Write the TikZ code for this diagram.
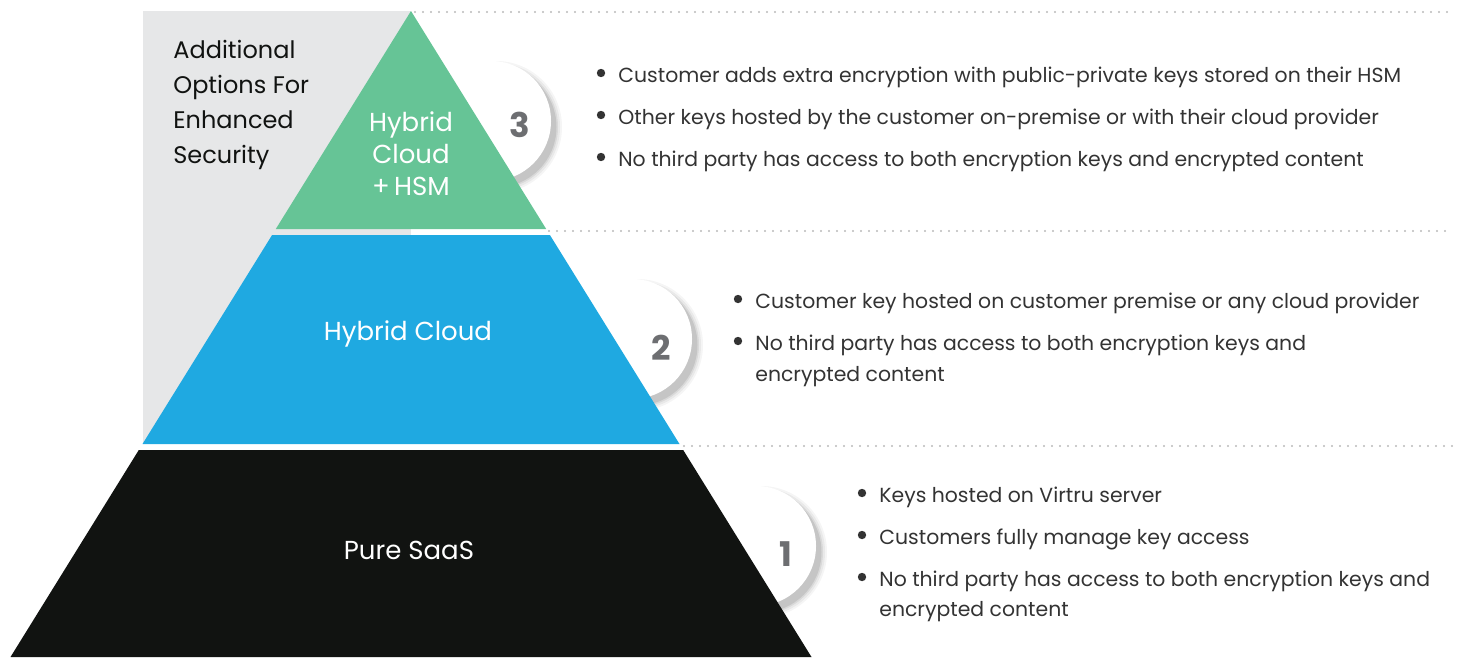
\documentclass[tikz,border=0pt]{standalone}
\usepackage{fontspec}
\setmainfont{Poppins}
\usetikzlibrary{positioning}
\usetikzlibrary{calc}
\definecolor{hsmgreen}{RGB}{102,196,150}
\definecolor{hybblue}{RGB}{31,169,225}
\definecolor{saasblack}{RGB}{17,19,17}
\definecolor{optgray}{RGB}{230,231,232}
\definecolor{numgray}{RGB}{109,110,113}
\definecolor{txtgray}{RGB}{51,51,51}
\definecolor{dotgray}{RGB}{185,185,185}
\tikzset{lvl/.style={text=white, font=\fontsize{13}{16}\selectfont, align=center, inner sep=0pt}}
\tikzset{badge/.style={circle, fill=white, minimum size=60pt, inner sep=0pt}}
\tikzset{num/.style={text=numgray, font=\fontsize{17}{17}\selectfont\bfseries, inner sep=0pt}}
\tikzset{item/.style={anchor=base west, inner sep=0pt, text=txtgray, font=\fontsize{10.2}{12}\selectfont}}
\tikzset{dot/.style={circle, fill=txtgray, minimum size=4.2pt, inner sep=0pt}}
\tikzset{sep/.style={dotgray, line width=1.2pt, line cap=round, dash pattern=on 0pt off 4pt}}

\begin{document}
\begin{tikzpicture}[x=0.5pt, y=-0.5pt]
        \useasboundingbox (0,0) rectangle (1462,659);

        % side panel
        \fill[optgray] (143,11) rectangle (411,444);

        % number badges with soft shadows
        \foreach \cx/\cy in {491/121, 632/339, 756/546} {
            \foreach \r/\o in {66/0.04, 64/0.05, 62/0.07, 60.5/0.09} {
                \fill[black, opacity=\o] (\cx+5,\cy+6) circle (\r);
            }
        }
        \node[badge] (c3) at (491,121) {};
        \node[badge] (c2) at (632,339) {};
        \node[badge] (c1) at (756,546) {};

        % pyramid
        \fill[hsmgreen] (411,11) -- (275.8,229) -- (546.2,229) -- cycle;
        \fill[hybblue] (272.1,235) -- (549.9,235) -- (679.5,444) -- (142.5,444) -- cycle;
        \fill[saasblack] (138.8,450) -- (683.2,450) -- (811.5,657) -- (10.5,657) -- cycle;

        \node[num] (n3) at (520,125) {3};
        \node[num] (n2) at (661,348) {2};
        \node[num] (n1) at (786,554) {1};

        \node[lvl] (hsm) at (411,154) {Hybrid\\Cloud\\+\,HSM};
        \node[lvl] (hyb) at (408,334) {Hybrid Cloud};
        \node[lvl] (saas) at (409,550) {Pure SaaS};

        \node[anchor=north west, align=left, inner sep=0pt, text=saasblack,
              font=\fontsize{12}{17.5}\selectfont] (opts) at (173,40)
            {Additional\\Options For\\Enhanced\\Security};

        % dotted separators
        \draw[sep] (415,12) -- (1452,12);
        \draw[sep] (549,231) -- (1452,231);
        \draw[sep] (684,446) -- (1452,446);

        % tier 3
        \node[item] (t31) at (618,82) {Customer adds extra encryption with public-private keys stored on their HSM};
        \node[item] (t32) at (618,124) {Other keys hosted by the customer on-premise or with their cloud provider};
        \node[item] (t33) at (618,166) {No third party has access to both encryption keys and encrypted content};

        % tier 2
        \node[item] (t21) at (755,308) {Customer key hosted on customer premise or any cloud provider};
        \node[item] (t22) at (755,350) {No third party has access to both encryption keys and};
        \node[item] (t22b) at (755,381) {encrypted content};

        % tier 1
        \node[item] (t11) at (879,502) {Keys hosted on Virtru server};
        \node[item] (t12) at (879,544) {Customers fully manage key access};
        \node[item] (t13) at (879,586) {No third party has access to both encryption keys and};
        \node[item] (t13b) at (879,616) {encrypted content};

        \foreach \t in {t31,t32,t33,t21,t22,t11,t12,t13}
            \node[dot] at ($(\t.base west)+(-17,-9)$) {};
\end{tikzpicture}
\end{document}
